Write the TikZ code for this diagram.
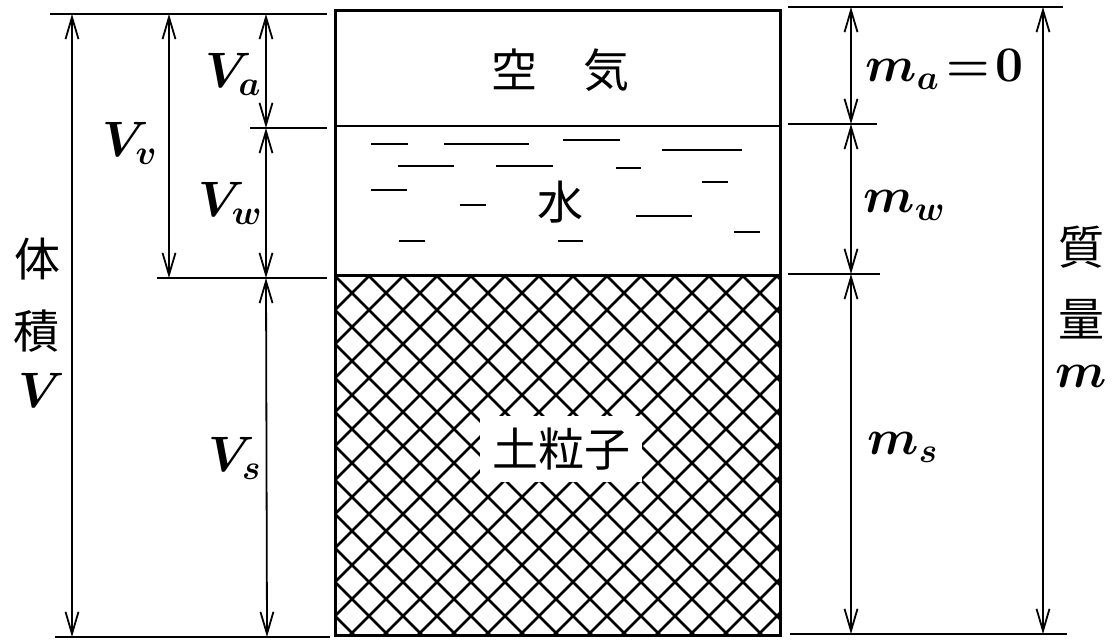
\documentclass[tikz,border=0pt]{standalone}
\usepackage{fontspec}
\usepackage{amsmath}
\newfontfamily\jpfont{Noto Sans CJK JP}
\usetikzlibrary{arrows.meta}

\begin{document}
\begin{tikzpicture}[x=0.5pt,y=-0.5pt,
	ext/.style={line width=0.9pt},
	dim/.style={line width=0.9pt,{Straight Barb[length=11pt,width=6.5pt]}-{Straight Barb[length=11pt,width=6.5pt]}},
	mlab/.style={inner sep=0pt,font=\fontsize{23}{27}\selectfont\boldmath},
	jlab/.style={inner sep=0pt,font=\jpfont\fontsize{23}{27}\selectfont}]
	\useasboundingbox (0,0) rectangle (1114,640);

	% soil hatching
	\begin{scope}
		\clip (335,276) rectangle (780,636);
		\foreach \i in {-408,-374,...,850} {
			\draw[line width=1.3pt] (335+\i,276) -- ++(400,400);
			\draw[line width=1.3pt] (335+\i,276) -- ++(-400,400);
		}
	\end{scope}
	\node[jlab,fill=white,inner sep=6pt] (soil) at (561,449) {土粒子};

	% sample
	\draw[line width=1.5pt] (335,11) rectangle (780,636);
	\draw[line width=1.2pt] (335,126) -- (780,126);
	\draw[line width=1.5pt] (335,276) -- (780,276);
	\foreach \xa/\xb/\y in {371/408/144, 444/529/144, 563/620/140, 662/742/150,
		398/454/166, 496/553/166, 616/641/168, 371/407/190, 702/728/182,
		460/486/205, 636/692/216, 734/760/232, 399/425/241, 558/583/241}
		\draw[line width=1pt] (\xa,\y) -- (\xb,\y);
	\node[jlab] (air) at (560,70) {空\hspace{1em}気};
	\node[jlab] (water) at (560,202) {水};

	% volume side
	\coordinate (vtop) at (50,14);
	\coordinate (vair) at (250,128);
	\coordinate (vwat) at (157,278);
	\coordinate (vbot) at (55,637);
	\draw[ext] (vtop) -- (327,14);
	\draw[ext] (vair) -- (327,128);
	\draw[ext] (vwat) -- (327,278);
	\draw[ext] (vbot) -- (330,637);
	\coordinate (V1) at (72,14);
	\coordinate (V2) at (72,637);
	\coordinate (Vv1) at (169,14);
	\coordinate (Vv2) at (169,278);
	\coordinate (Va1) at (266,14);
	\coordinate (Va2) at (266,128);
	\coordinate (Vw2) at (266,278);
	\coordinate (Vs2) at (267,637);
	\draw[dim] (V1) -- (V2);
	\draw[dim] (Vv1) -- (Vv2);
	\draw[dim] (Va1) -- (Va2);
	\draw[dim] (Va2) -- (Vw2);
	\draw[dim] (Vw2) -- (Vs2);
	\node[mlab,anchor=base east] (va) at (262,88) {$V_a$};
	\node[mlab,anchor=base east] (vv) at (158,157) {$V_v$};
	\node[mlab,anchor=base east] (vw) at (263,217) {$V_w$};
	\node[mlab,anchor=base east] (vs) at (262,472) {$V_s$};
	\node[jlab] (tai) at (37,259) {体};
	\node[jlab] (seki) at (36,331) {積};
	\node[mlab,anchor=base] (vol) at (42,408) {$V$};

	% mass side
	\coordinate (mtop) at (1063,7);
	\coordinate (mair) at (877,124);
	\coordinate (mwat) at (880,274);
	\coordinate (mbot) at (1067,634);
	\draw[ext] (788,7) -- (mtop);
	\draw[ext] (788,124) -- (mair);
	\draw[ext] (788,274) -- (mwat);
	\draw[ext] (790,634) -- (mbot);
	\coordinate (ma1) at (851,7);
	\coordinate (ma2) at (851,124);
	\coordinate (mw2) at (851,274);
	\coordinate (ms2) at (851,634);
	\coordinate (m1) at (1043,7);
	\coordinate (m2) at (1043,634);
	\draw[dim] (ma1) -- (ma2);
	\draw[dim] (ma2) -- (mw2);
	\draw[dim] (mw2) -- (ms2);
	\draw[dim] (m1) -- (m2);
	\node[mlab,anchor=base west] (ma) at (865,82) {$m_a\!=\!0$};
	\node[mlab,anchor=base west] (mw) at (863,213) {$m_w$};
	\node[mlab,anchor=base west] (ms) at (867,455) {$m_s$};
	\node[jlab] (shitsu) at (1081,247) {質};
	\node[jlab] (ryo) at (1081,319) {量};
	\node[mlab,anchor=base] (mass) at (1081,388) {$m$};
\end{tikzpicture}
\end{document}
